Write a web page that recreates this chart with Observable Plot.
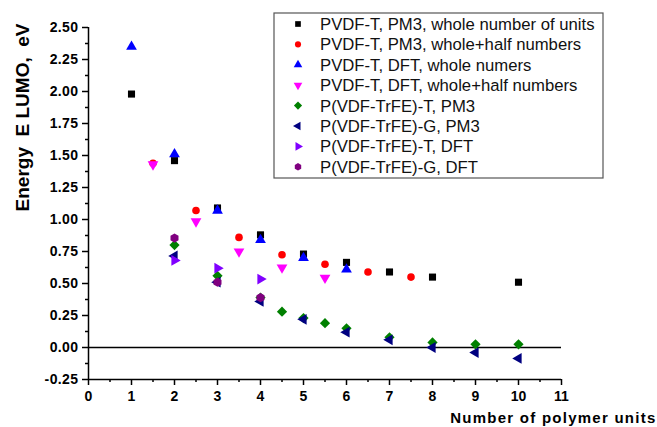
<!DOCTYPE html>
<html><head><meta charset="utf-8">
<script src="https://cdn.jsdelivr.net/npm/d3@7"></script>
<script src="https://cdn.jsdelivr.net/npm/@observablehq/plot@0.6"></script>
<style>
body{margin:0;background:#fff;}
#wrap{position:relative;width:657px;height:427px;font-family:"Liberation Sans",Arial,sans-serif;}
#wrap svg text{white-space:pre;}
</style></head><body><div id="wrap"></div>
<script>
// ---- data ----
const xTicks = [0,1,2,3,4,5,6,7,8,9,10,11];
const xMinor = [0.5,1.5,2.5,3.5,4.5,5.5,6.5,7.5,8.5,9.5,10.5];
const yTicks = [-0.25,0,0.25,0.5,0.75,1,1.25,1.5,1.75,2,2.25,2.5];
const yMinor = [-0.125,0.125,0.375,0.625,0.875,1.125,1.375,1.625,1.875,2.125,2.375];
const xTitle = "Number of polymer units";
const yTitle = "Energy  E LUMO,  eV";

const seriesNames = [
  "PVDF-T, PM3, whole number of units",
  "PVDF-T, PM3, whole+half numbers",
  "PVDF-T, DFT, whole numers",
  "PVDF-T, DFT, whole+half numbers",
  "P(VDF-TrFE)-T, PM3",
  "P(VDF-TrFE)-G, PM3",
  "P(VDF-TrFE)-T, DFT",
  "P(VDF-TrFE)-G, DFT"
];
const seriesColors = ["#000000","#ff0000","#0000ff","#ff00ff","#008000","#000080","#8000ff","#800080"];

const s1x = [1,2,3,4,5,6,7,8,10];
const s1y = [1.98,1.46,1.09,0.88,0.73,0.665,0.59,0.55,0.51];
const s2x = [1.5,2.5,3.5,4.5,5.5,6.5,7.5];
const s2y = [1.44,1.07,0.86,0.725,0.65,0.59,0.55];
const s3x = [1,2,3,4,5,6];
const s3y = [2.35,1.51,1.07,0.84,0.70,0.61];
const s4x = [1.5,2.5,3.5,4.5,5.5];
const s4y = [1.43,0.985,0.75,0.625,0.545];
const s5x = [2,3,4,4.5,5,5.5,6,7,8,9,10];
const s5y = [0.80,0.56,0.39,0.28,0.23,0.19,0.15,0.08,0.04,0.025,0.025];
const s6x = [2,3,4,5,6,7,8,9,10];
const s6y = [0.715,0.51,0.36,0.22,0.12,0.06,0.0,-0.04,-0.085];
const s7x = [2,3,4];
const s7y = [0.68,0.62,0.535];
const s8x = [2,3,4];
const s8y = [0.855,0.51,0.39];

const seriesX = [s1x,s2x,s3x,s4x,s5x,s6x,s7x,s8x];
const seriesY = [s1y,s2y,s3y,s4y,s5y,s6y,s7y,s8y];

// ---- symbols ----
const sq3 = Math.sqrt(3);
function triangle(map){
  return {draw(ctx, size){
    const y = -Math.sqrt(size/(sq3*3));
    const pts = [[0,y*2],[-sq3*y,-y],[sq3*y,-y]].map(map);
    ctx.moveTo(pts[0][0],pts[0][1]);
    ctx.lineTo(pts[1][0],pts[1][1]);
    ctx.lineTo(pts[2][0],pts[2][1]);
    ctx.closePath();
  }};
}
const triDown = triangle(([x,y]) => [x,-y]);
const triLeft = triangle(([x,y]) => [y,x]);
const triRight = triangle(([x,y]) => [-y,x]);
const hexagon = {draw(ctx, size){
  const rx = Math.sqrt(size/Math.PI), ry = rx*Math.sqrt(4/3), hy = ry/2;
  ctx.moveTo(0,ry); ctx.lineTo(rx,hy); ctx.lineTo(rx,-hy); ctx.lineTo(0,-ry);
  ctx.lineTo(-rx,-hy); ctx.lineTo(-rx,hy); ctx.closePath();
}};
const seriesSymbols = [d3.symbolSquare, d3.symbolCircle, d3.symbolTriangle, triDown, d3.symbolDiamond2, triLeft, triRight, hexagon];
const seriesR = [4, 3.8, 4, 4, 4.6, 4, 4, 4];

const xDomain = [xTicks[0], xTicks[xTicks.length-1]];
const yDomain = [yTicks[0], yTicks[yTicks.length-1]];

const dotMarks = seriesNames.map((name, i) => {
  const data = seriesX[i].map((x, j) => ({x, y: seriesY[i][j]}));
  return Plot.dot(data, {x: "x", y: "y", symbol: seriesSymbols[i], fill: seriesColors[i], stroke: "none", r: seriesR[i]});
});

const plot = Plot.plot({
  width: 657,
  height: 427,
  marginLeft: 88,
  marginRight: 96,
  marginTop: 27,
  marginBottom: 48,
  style: {fontFamily: "'Liberation Sans', Arial, sans-serif", fontSize: "14px", color: "#000", background: "#fff"},
  x: {domain: xDomain, label: null},
  y: {domain: yDomain, label: null},
  marks: [
    Plot.axisX(xTicks, {tickSize: 6, tickPadding: 6, strokeWidth: 1.5, fontWeight: "bold", fontSize: 14, label: null, tickFormat: d => String(d)}),
    Plot.axisX(xMinor, {tickSize: 3, strokeWidth: 1.5, label: null, tickFormat: () => ""}),
    Plot.axisY(yTicks, {tickSize: 6, tickPadding: 4, strokeWidth: 1.5, fontWeight: "bold", fontSize: 14, label: null, tickFormat: d => d.toFixed(2)}),
    Plot.axisY(yMinor, {tickSize: 3, strokeWidth: 1.5, label: null, tickFormat: () => ""}),
    Plot.ruleX([xDomain[0]], {strokeWidth: 1.5}),
    Plot.ruleY([yDomain[0]], {strokeWidth: 1.5}),
    Plot.ruleY([0], {strokeWidth: 1.5}),
    ...dotMarks,
    Plot.text([xTitle], {frameAnchor: "bottom-right", textAnchor: "end", lineAnchor: "bottom", dx: 95, dy: 43, fontWeight: "bold", fontSize: 15, text: d => d}),
    Plot.text([yTitle], {frameAnchor: "top-left", textAnchor: "end", lineAnchor: "middle", rotate: -90, dx: -66, dy: -4, fontWeight: "bold", fontSize: 19, text: d => d})
  ]
});
document.getElementById("wrap").appendChild(plot);
plot.querySelectorAll("text").forEach(t => {
  if (t.textContent === xTitle) t.style.letterSpacing = "1.25px";
  if (/^-?\d\.\d\d$/.test(t.textContent)) t.style.letterSpacing = "0.4px";
});

// ---- legend ----
const leg = d3.select("#wrap").append("svg")
  .style("position","absolute").style("left","273px").style("top","12px")
  .attr("width", 332).attr("height", 168);
leg.append("rect").attr("x",1).attr("y",1).attr("width",329).attr("height",165)
  .attr("fill","#fff").attr("stroke","#555").attr("stroke-width",1.2);
const rows = leg.selectAll("g.row").data(seriesNames).join("g")
  .attr("transform", (d,i) => `translate(25,${12 + i*20.4})`);
rows.append("path")
  .attr("d", (d,i) => d3.symbol(seriesSymbols[i], Math.PI*Math.pow(seriesR[i]*0.8,2))())
  .attr("fill", (d,i) => seriesColors[i]);
rows.append("text").attr("x", 22).attr("dy", "0.36em")
  .style("font-family","'Liberation Sans', Arial, sans-serif").style("font-size","16.7px")
  .attr("fill","#111").text(d => d);
</script></body></html>
